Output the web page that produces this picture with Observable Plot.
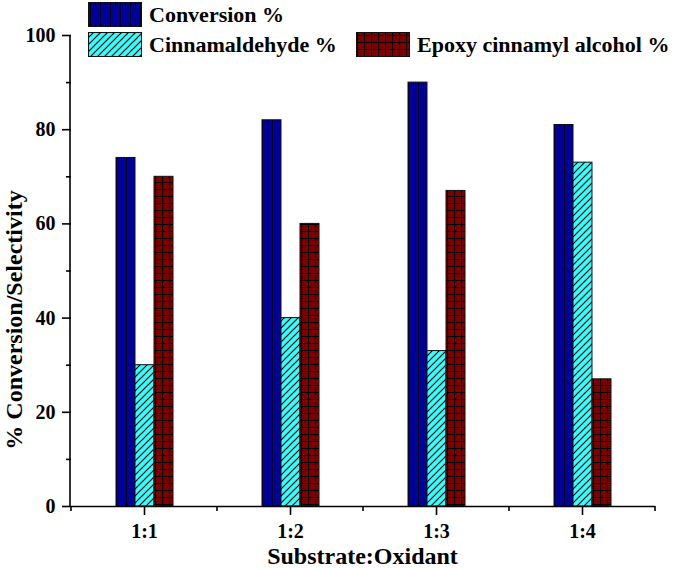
<!DOCTYPE html>
<html><head><meta charset="utf-8">
<script src="https://cdn.jsdelivr.net/npm/d3@7"></script>
<script src="https://cdn.jsdelivr.net/npm/@observablehq/plot@0.6"></script>
<style>
body{margin:0;background:#fff;}
#wrap{position:relative;width:685px;height:568px;}
#legend{position:absolute;left:0;top:0;pointer-events:none;}
</style></head><body>
<svg width="0" height="0" style="position:absolute">
<defs>
<pattern id="pConv" patternUnits="userSpaceOnUse" width="5" height="5">
<rect width="5" height="5" fill="#0000A0"/>
<line x1="0.5" y1="0" x2="0.5" y2="5" stroke="#000" stroke-width="1"/>
</pattern>
<pattern id="pCinn" patternUnits="userSpaceOnUse" width="7" height="7">
<rect width="7" height="7" fill="#33FFFF"/>
<path d="M-2,2 L2,-2 M0,7 L7,0 M5,9 L9,5" stroke="#000" stroke-width="1.2"/>
</pattern>
<pattern id="pEpox" patternUnits="userSpaceOnUse" width="7" height="7">
<rect width="7" height="7" fill="#800000"/>
<path d="M0,0.5 H7 M0.5,0 V7" stroke="#000" stroke-width="1.2"/>
</pattern>
</defs></svg>
<div id="wrap"></div>
<script>
const ratios = ["1:1", "1:2", "1:3", "1:4"];
const seriesNames = ["Conversion %", "Cinnamaldehyde %", "Epoxy cinnamyl alcohol %"];
const conversion = [74, 82, 90, 81];
const cinnamaldehyde = [30, 40, 33, 73];
const epoxy = [70, 60, 67, 27];
const yTicks = [0, 20, 40, 60, 80, 100];
const yMinorTicks = [10, 30, 50, 70, 90];
const xTitle = "Substrate:Oxidant";
const yTitle = "% Conversion/Selectivity";
const patterns = ["url(#pConv)", "url(#pCinn)", "url(#pEpox)"];

const seriesValues = [conversion, cinnamaldehyde, epoxy];
const rows = ratios.flatMap((r, i) => seriesNames.map((s, j) => ({ratio: r, series: s, value: seriesValues[j][i]})));

const FONT = '"Liberation Serif", "Times New Roman", serif';

const plot = Plot.plot({
  width: 685, height: 568,
  marginLeft: 70, marginRight: 30, marginTop: 35, marginBottom: 62,
  style: {fontFamily: FONT, fontWeight: "bold", fontSize: "20px", color: "#000", background: "#fff"},
  fx: {domain: ratios, padding: 0, label: null},
  x: {domain: seriesNames, paddingInner: 0, paddingOuter: 2.16, axis: null},
  y: {domain: [0, 100], label: null},
  marks: [
    ...seriesNames.map((s, j) => Plot.barY(rows.filter(d => d.series === s), {
      fx: "ratio", x: "series", y: "value", fill: patterns[j], stroke: "#111", strokeWidth: 1
    })),
    Plot.ruleY([0], {stroke: "#000", strokeWidth: 1.6}),
    Plot.axisY(yTicks, {tickSize: 9, tickPadding: 7, label: null, strokeWidth: 1.6}),
    Plot.axisY(yMinorTicks, {tickSize: 5, tickFormat: () => "", label: null, strokeWidth: 1.6}),
    Plot.axisFx({anchor: "bottom", tickSize: 9, tickPadding: 8, label: null, strokeWidth: 1.6})
  ]
});

// Axis line, minor x ticks and titles using the plot's own scales
const svg = d3.select(plot);
const y = plot.scale("y"), fx = plot.scale("fx");
const x0 = fx.range[0];
const yTop = y.apply(100), yBot = y.apply(0);
svg.append("line").attr("x1", x0).attr("x2", x0).attr("y1", yTop).attr("y2", yBot + 1)
  .attr("stroke", "#000").attr("stroke-width", 1.6);
const bounds = ratios.map(r => fx.apply(r)).concat([fx.apply(ratios[ratios.length - 1]) + fx.bandwidth]);
svg.append("g").selectAll("line").data(bounds).join("line")
  .attr("x1", d => d).attr("x2", d => d).attr("y1", yBot).attr("y2", yBot + 5)
  .attr("stroke", "#000").attr("stroke-width", 1.6);
svg.append("text").attr("x", (fx.range[0] + fx.range[1]) / 2).attr("y", 564)
  .attr("text-anchor", "middle").attr("font-size", 24).attr("font-weight", "bold")
  .attr("font-family", FONT).attr("fill", "#000").text(xTitle);
svg.append("text").attr("transform", "translate(22,320) rotate(-90)")
  .attr("text-anchor", "middle").attr("font-size", 24).attr("font-weight", "bold")
  .attr("font-family", FONT).attr("fill", "#000").text(yTitle);

const wrap = document.getElementById("wrap");
wrap.appendChild(plot);

// Legend overlay
const leg = d3.select(wrap).append("svg").attr("id", "legend").attr("width", 685).attr("height", 62);
const legPos = [[88, 2], [88, 32], [356, 32]];
seriesNames.forEach((s, j) => {
  const [lx, ly] = legPos[j];
  leg.append("rect").attr("x", lx + 0.5).attr("y", ly + 0.5).attr("width", 53).attr("height", 24)
    .attr("fill", patterns[j]).attr("stroke", "#111").attr("stroke-width", 1);
  leg.append("text").attr("x", lx + 61).attr("y", ly + 20)
    .attr("font-size", 22).attr("font-weight", "bold").attr("font-family", FONT).attr("fill", "#000").text(s);
});
</script>
</body></html>
